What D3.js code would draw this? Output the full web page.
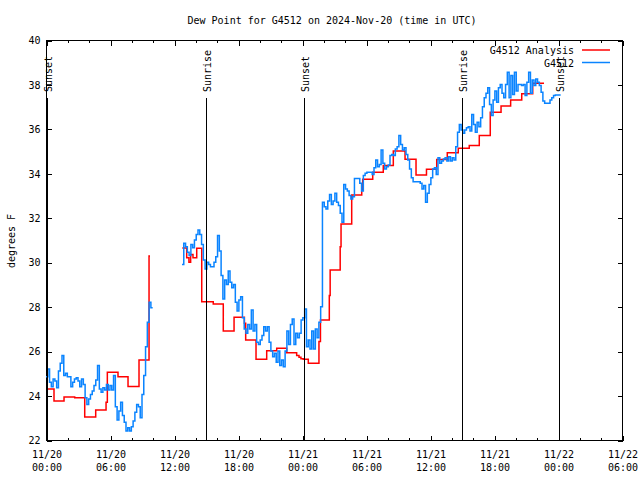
<!DOCTYPE html>
<html><head><meta charset="utf-8">
<script src="https://cdn.jsdelivr.net/npm/d3@7"></script>
<style>
body{margin:0;background:#fff}
svg text{font-family:"DejaVu Sans Mono",monospace;font-size:10px;fill:#000}
</style></head><body>
<svg id="c" width="640" height="480"></svg>
<script>
// ---- data ----
const titleText = "Dew Point for G4512 on 2024-Nov-20 (time in UTC)";
const yLabel = "degrees F";
const startUTC = Date.UTC(2024, 10, 20, 0, 0);   // 11/20 00:00 UTC
const xHoursDomain = [0, 54];
const yDomain = [22, 40];
const yTicks = [22, 24, 26, 28, 30, 32, 34, 36, 38, 40];
const seriesNames = ["G4512 Analysis", "G4512"];

// Analysis (hours after start, value)
const anaTimes1 = [0.1, 0.75, 1.69, 2.69, 3.63, 4.66, 5.63, 5.75, 6.75, 7.69, 8.72, 9.66, 9.75];
const anaValues1 = [24.3, 23.75, 23.93, 23.9, 23.03, 23.35, 23.7, 25.05, 24.85, 24.41, 25.6, 30.28, 30.28];
const anaTimes2 = [12.78, 13.19, 13.4, 13.56, 13.78, 14.13, 14.6, 15.68, 16.62, 17.63, 18.6, 18.72, 19.69, 20.69, 21.63, 22.57, 23.5, 23.72, 23.9, 24.12, 24.59, 25.59, 25.73, 26.56, 26.64, 27.58, 27.66, 28.66, 29.6, 29.69, 30.63, 31.62, 32.56, 33.66, 34.69, 35.67, 36.63, 37.62, 38.65, 39.68, 40.62, 41.65, 42.66, 43.56, 44.6, 45.63, 46.69];
const anaValues2 = [30.64, 30.2, 30.0, 30.35, 30.2, 30.63, 28.22, 28.12, 26.9, 27.52, 27.25, 26.5, 25.63, 26.02, 26.13, 25.93, 25.8, 25.72, 25.66, 25.63, 25.45, 26.43, 27.4, 28.5, 29.65, 30.7, 31.72, 33.03, 33.25, 33.73, 34.05, 34.35, 35.0, 34.63, 33.92, 34.18, 34.62, 34.93, 35.13, 35.25, 35.7, 36.75, 37.03, 37.3, 37.58, 38.05, 38.05];

// Observations, 10-minute readings
const obsStep = 1 / 6;
const obsStart1 = 0;
const obsValues1 = [24.85, 25.2, 24.6, 24.4, 24.75, 24.65, 24.35, 25.1, 25.45, 25.8,
 24.9, 25.0, 24.85, 24.85, 24.4, 24.6, 24.75, 24.8, 24.65, 24.4,
 24.75, 24.5, 23.9, 23.6, 23.85, 24.05, 24.2, 24.45, 24.7, 25.35,
 24.3, 24.15, 24.35, 24.25, 24.5, 24.25, 24.45, 24.25, 24.9, 23.5,
 22.9, 23.3, 23.7, 23.1, 22.8, 22.4, 22.55, 22.4, 22.6, 22.85,
 23.25, 23.6, 23.5, 23.0, 24.05, 24.9, 26.2, 27.3, 28.2, 27.95];
const obsStart2 = 12.75;
const obsValues2 = [29.9, 30.85, 30.7, 30.45, 30.3, 30.8, 30.65, 31.0, 31.25, 31.45,
 31.25, 30.8, 30.1, 29.7, 30.0, 29.9, 29.8, 29.8, 30.0, 30.25,
 31.2, 30.5, 29.4, 28.35, 29.2, 29.0, 29.6, 29.1, 28.85, 29.0,
 28.2, 27.8, 28.3, 28.45, 27.5, 27.0, 26.8, 27.2, 27.0, 27.85,
 26.9, 27.2, 26.4, 26.3, 26.5, 26.7, 27.1, 26.9, 27.1, 26.4,
 26.0, 25.75, 25.9, 25.5, 26.0, 25.35, 25.6, 25.3, 26.0, 26.9,
 26.3, 27.2, 27.45, 26.3, 26.8, 26.6, 26.8, 27.4, 27.5, 27.9,
 26.2, 26.5, 26.1, 26.9, 26.1, 27.0, 26.6, 27.3, 28.0, 32.7,
 32.5, 32.4, 32.75, 33.05, 32.6, 32.75, 33.1, 32.7, 32.55, 32.2,
 31.8, 33.5, 33.3, 33.2, 33.0, 32.85, 32.95, 33.77, 33.77, 33.77,
 33.55, 33.2, 33.9, 34.0, 34.05, 34.05, 34.05, 33.95, 34.25, 34.6,
 34.3, 34.4, 35.05, 34.45, 34.2, 34.3, 34.37, 34.8, 34.85, 34.8,
 35.1, 35.2, 35.7, 35.3, 35.05, 35.15, 34.85, 34.6, 34.2, 33.8,
 33.62, 33.62, 33.62, 33.62, 33.55, 33.3, 33.45, 32.7, 33.1, 33.5,
 33.8, 34.2, 34.25, 33.95, 34.7, 34.45, 34.55, 34.65, 34.7, 34.55,
 34.75, 34.55, 34.7, 34.6, 35.2, 35.85, 36.2, 35.95, 35.8, 35.95,
 36.05, 36.1, 35.9, 36.65, 36.2, 35.85, 36.3, 36.1, 36.5, 37.0,
 37.4, 37.6, 37.85, 37.1, 36.6, 37.3, 37.7, 37.2, 37.85, 38.0,
 37.6, 37.4, 38.0, 38.55, 37.4, 38.4, 37.55, 38.55, 37.7, 38.0,
 38.0, 37.95, 38.0, 37.5, 38.1, 38.55, 37.6, 38.2, 37.95, 38.25,
 38.1, 37.95, 37.65, 37.25, 37.15, 37.15, 37.15, 37.3, 37.4, 37.5,
 37.52, 37.52, 37.52];

// Sun events (hours after start)
const eventTimes = [0.14, 15.0, 24.19, 39.0, 48.09];
const eventLabels = ["Sunset", "Sunrise", "Sunset", "Sunrise", "Sunset"];

// ---- drawing ----
const T = h => new Date(startUTC + h * 3600e3);
const L = 46, R = 622, Tp = 40, B = 440;
const svg = d3.select("#c");
const x = d3.scaleUtc().domain(xHoursDomain.map(T)).range([L, R]);
const y = d3.scaleLinear().domain(yDomain).range([B, Tp]);

const red = "#ff0000", blue = "#0a84ff";

function toPts(times, vals) { return times.map((t, i) => ({t: T(t), v: vals[i]})); }
function obsPts(start, vals) {
  const p = vals.map((v, i) => ({t: T(start + i * obsStep), v}));
  p.push({t: T(start + vals.length * obsStep), v: vals[vals.length - 1]});
  return p;
}

const line = d3.line().x(d => x(d.t)).y(d => y(d.v)).curve(d3.curveStepAfter);

// frame
svg.append("rect").attr("x", L + 0.5).attr("y", Tp + 0.5).attr("width", R - L).attr("height", B - Tp)
  .attr("fill", "none").attr("stroke", "#000").attr("stroke-width", 1).attr("shape-rendering", "crispEdges");

const majorTicks = d3.utcHour.range(x.domain()[0], new Date(+x.domain()[1] + 1), 6);
const minorTicks = d3.utcHour.range(x.domain()[0], new Date(+x.domain()[1] + 1), 2).filter(d => d.getUTCHours() % 6 !== 0);

function clean(g) { g.select(".domain").remove(); g.selectAll("line").attr("shape-rendering", "crispEdges"); }

const gB = svg.append("g").attr("transform", `translate(0.5,${B + 0.5})`)
  .call(d3.axisBottom(x).tickValues(majorTicks).tickSizeInner(-5).tickSizeOuter(0));
clean(gB);
const fD = d3.utcFormat("%m/%d"), fT = d3.utcFormat("%H:%M");
gB.selectAll(".tick text").each(function(d) {
  const s = d3.select(this); s.text(null).attr("dy", null).attr("y", null);
  s.append("tspan").attr("x", 0).attr("y", 17).text(fD(d));
  s.append("tspan").attr("x", 0).attr("y", 30).text(fT(d));
});
const gBm = svg.append("g").attr("transform", `translate(0.5,${B + 0.5})`)
  .call(d3.axisBottom(x).tickValues(minorTicks).tickSizeInner(-2.5).tickSizeOuter(0).tickFormat(() => ""));
clean(gBm);
const gT = svg.append("g").attr("transform", `translate(0.5,${Tp + 0.5})`)
  .call(d3.axisTop(x).tickValues(majorTicks).tickSizeInner(-5).tickSizeOuter(0).tickFormat(() => ""));
clean(gT);
const gTm = svg.append("g").attr("transform", `translate(0.5,${Tp + 0.5})`)
  .call(d3.axisTop(x).tickValues(minorTicks).tickSizeInner(-2.5).tickSizeOuter(0).tickFormat(() => ""));
clean(gTm);
const gL = svg.append("g").attr("transform", `translate(${L + 0.5},0.5)`)
  .call(d3.axisLeft(y).tickValues(yTicks).tickSizeInner(-5).tickSizeOuter(0).tickPadding(6));
clean(gL);
const gR = svg.append("g").attr("transform", `translate(${R + 0.5},0.5)`)
  .call(d3.axisRight(y).tickValues(yTicks).tickSizeInner(-5).tickSizeOuter(0).tickFormat(() => ""));
clean(gR);
svg.selectAll(".tick text").attr("font-family", null).attr("font-size", null).attr("fill", "#000");

// data
const dataG = svg.append("g").attr("fill", "none").attr("stroke-width", 1.5).attr("stroke-linejoin", "miter");
[toPts(anaTimes1, anaValues1), toPts(anaTimes2, anaValues2)].forEach(p =>
  dataG.append("path").attr("d", line(p)).attr("stroke", red));
[obsPts(obsStart1, obsValues1), obsPts(obsStart2, obsValues2)].forEach(p =>
  dataG.append("path").attr("d", line(p)).attr("stroke", blue));

// sun events
const ev = svg.append("g");
eventTimes.forEach((h, i) => {
  const xx = Math.round(x(T(h))) + 0.5;
  ev.append("line").attr("x1", xx).attr("x2", xx).attr("y1", 98).attr("y2", B)
    .attr("stroke", "#000").attr("stroke-width", 1).attr("shape-rendering", "crispEdges");
  ev.append("text").attr("transform", `translate(${xx + 4.5},92) rotate(-90)`).text(eventLabels[i]);
});

// legend
const lg = svg.append("g");
[red, blue].forEach((c, i) => {
  const yy = 50 + i * 12.5;
  lg.append("text").attr("x", 574).attr("y", yy + 4).attr("text-anchor", "end").text(seriesNames[i]);
  lg.append("line").attr("x1", 582).attr("x2", 610).attr("y1", yy).attr("y2", yy)
    .attr("stroke", c).attr("stroke-width", 1.5);
});

// title & axis label
svg.append("text").attr("x", 332).attr("y", 24).attr("text-anchor", "middle").text(titleText);
svg.append("text").attr("transform", "translate(15,241) rotate(-90)").attr("text-anchor", "middle").text(yLabel);
</script>
</body></html>
